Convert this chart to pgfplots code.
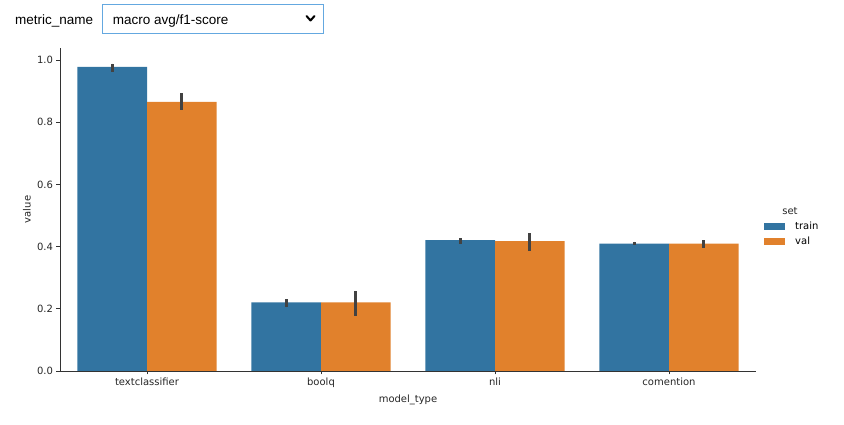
\documentclass[border=0pt]{standalone}
\usepackage{pgfplots}
\pgfplotsset{compat=1.18}
\usepackage{fontspec}
\setmainfont{DejaVu Sans}
\newfontfamily\uifont{Liberation Sans}
\definecolor{trainc}{HTML}{3274A1}
\definecolor{valc}{HTML}{E1812C}
\definecolor{boxc}{HTML}{64A8E0}
\definecolor{errc}{HTML}{424242}
\definecolor{axc}{HTML}{333333}
\begin{document}
\begin{tikzpicture}
\useasboundingbox (0pt,0pt) rectangle (844pt,425pt);
% widget
\node[anchor=base west, inner sep=0pt, font=\uifont\fontsize{13.5}{16}\selectfont] at (15pt,400pt) {metric\_name};
\draw[boxc, line width=1pt] (102.5pt,420.5pt) rectangle (323.5pt,391.5pt);
\node[anchor=base west, inner sep=0pt, font=\uifont\fontsize{13.5}{16}\selectfont] at (112.7pt,400pt) {macro avg/f1-score};
\draw[line width=2pt, line cap=round, line join=round] (306.5pt,409pt)--(310.5pt,404.5pt)--(314.5pt,409pt);
\begin{axis}[
  at={(60pt,54pt)}, anchor=south west,
  scale only axis, width=696pt, height=323pt,
  xmin=-0.5, xmax=3.5, ymin=0, ymax=1.039,
  axis x line*=bottom, axis y line*=left,
  axis line style={-, line width=0.8pt, color=axc},
  tick align=outside, major tick length=3.5pt,
  tick style={line width=0.8pt, color=axc},
  xtick={0,1,2,3},
  xticklabels={textclassifier,boolq,nli,comention},
  ytick={0,0.2,0.4,0.6,0.8,1.0},
  yticklabel style={/pgf/number format/.cd, fixed, fixed zerofill, precision=1},
  /pgf/number format/assume math mode=true,
  tick label style={font=\fontsize{10}{12}\selectfont, color=black!85},
  label style={font=\fontsize{10}{12}\selectfont, color=black!85},
  xlabel={model\_type}, ylabel={value},
  xlabel style={anchor=center, at={(axis description cs:0.5,-0.0898)}},
  ylabel style={anchor=center, at={(axis description cs:-0.0474,0.5)}},
  legend style={at={(axis description cs:1.0115,0.424)}, anchor=west, draw=none, fill=none,
    font=\fontsize{10}{12}\selectfont, row sep=2pt, inner sep=0pt,
    /tikz/every odd column/.append style={column sep=8pt}},
  legend cell align=left,
  legend image code/.code={\fill[#1] (0pt,-3.5pt) rectangle (21pt,3.5pt);},
]
\addplot[ybar, bar width=0.4, bar shift=0pt, fill=trainc, draw=none,
  error bars/.cd, y dir=both, y explicit, error mark=none,
  error bar style={line width=2.8pt, color=errc}]
coordinates {
  (-0.2,0.978) += (0,0.011) -= (0,0.016)
  (0.8,0.221) += (0,0.010) -= (0,0.016)
  (1.8,0.421) += (0,0.006) -= (0,0.013)
  (2.8,0.410) += (0,0.006) -= (0,0.005)
};
\addlegendentry{train}
\addplot[ybar, bar width=0.4, bar shift=0pt, fill=valc, draw=none,
  error bars/.cd, y dir=both, y explicit, error mark=none,
  error bar style={line width=2.8pt, color=errc}]
coordinates {
  (0.2,0.866) += (0,0.028) -= (0,0.026)
  (1.2,0.221) += (0,0.037) -= (0,0.043)
  (2.2,0.418) += (0,0.025) -= (0,0.031)
  (3.2,0.410) += (0,0.011) -= (0,0.013)
};
\addlegendentry{val}
\end{axis}
\node[font=\fontsize{10}{12}\selectfont, color=black!85] at (790pt,214pt) {set};
\end{tikzpicture}
\end{document}
